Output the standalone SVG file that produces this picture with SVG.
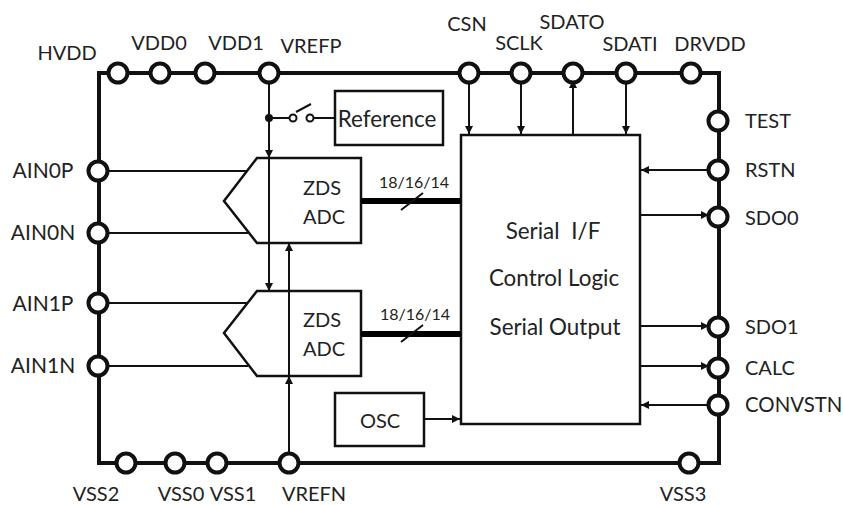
<svg xmlns="http://www.w3.org/2000/svg" width="843" height="505" viewBox="0 0 843 505">
<style>
text{font-family:Lato,"Open Sans","Liberation Sans",sans-serif;font-size:20px;fill:#222}
.pin{fill:#fff;stroke:#111;stroke-width:4}
.box{fill:#fff;stroke:#111;stroke-width:2.5}
.w{fill:none;stroke:#111;stroke-width:2}
.rail{fill:none;stroke:#111;stroke-width:4}
.bus{fill:none;stroke:#000;stroke-width:6}
.a{fill:#111}
.c{text-anchor:middle}
.ain{font-size:21px}
.big{font-size:22.4px}
</style>
<defs>
<path id="ah" class="a" d="M0 0L-4 -8L4 -8Z"/>
</defs>
<rect width="843" height="505" fill="#fff"/>
<g id="frame"><path class="rail" d="M99 73H719V463H99Z"/></g>
<g id="blocks">
<path id="adc0" class="box" d="M257 158H361V243H257L224 201Z"/>
<path id="adc1" class="box" d="M257 291H361V376H257L224 333Z"/>
<rect id="logic" class="box" x="461" y="135" width="179" height="289"/>
<rect id="osc" class="box" x="335" y="393" width="89" height="53"/>
<rect id="reference" class="box" x="335" y="91" width="108" height="54"/>
</g>
<g id="connectors">
<path class="w" d="M269 73V291M289 463V243"/>
<use href="#ah" x="269" y="158"/><use href="#ah" x="269" y="291"/>
<use href="#ah" transform="translate(289 243) rotate(180)"/><use href="#ah" transform="translate(289 376) rotate(180)"/>
<circle class="a" cx="269" cy="118" r="4"/>
<path class="w" d="M269 118H289M314 118H335M296 112L311 104"/>
<circle cx="293" cy="118" r="3.500" fill="#fff" stroke="#111" stroke-width="2"/>
<circle cx="310" cy="118" r="3.500" fill="#fff" stroke="#111" stroke-width="2"/>
<path class="w" d="M99 171H248M99 233H248M99 303H248M99 366H248"/>
<path class="bus" d="M361 201H461M361 334H461"/>
<path class="w" d="M401 210L423 193M401 342L423 325"/>
<path class="w" d="M469 73V135M521 73V135M573 73V135M626 73V135"/>
<use href="#ah" x="469" y="134"/><use href="#ah" x="521" y="134"/><use href="#ah" x="626" y="134"/>
<use href="#ah" transform="translate(573 80) rotate(180)"/>
<path class="w" d="M640 170H719M640 215H719M640 326H719M640 366H719M640 405H719M424 419H461"/>
<use href="#ah" transform="translate(641 170) rotate(90)"/>
<use href="#ah" transform="translate(709 215) rotate(-90)"/>
<use href="#ah" transform="translate(709 326) rotate(-90)"/>
<use href="#ah" transform="translate(709 366) rotate(-90)"/>
<use href="#ah" transform="translate(641 405) rotate(90)"/>
<use href="#ah" transform="translate(460 419) rotate(-90)"/>
</g>
<g id="pins">
<circle class="pin" cx="118" cy="73" r="9.500"/><circle class="pin" cx="160" cy="73" r="9.500"/><circle class="pin" cx="205" cy="73" r="9.500"/><circle class="pin" cx="269" cy="73" r="9.500"/><circle class="pin" cx="469" cy="73" r="9.500"/><circle class="pin" cx="521" cy="73" r="9.500"/><circle class="pin" cx="573" cy="73" r="9.500"/><circle class="pin" cx="626" cy="73" r="9.500"/><circle class="pin" cx="691" cy="73" r="9.500"/>
<circle class="pin" cx="718" cy="121" r="9.500"/><circle class="pin" cx="718" cy="170" r="9.500"/><circle class="pin" cx="718" cy="217" r="9.500"/><circle class="pin" cx="718" cy="327" r="9.500"/><circle class="pin" cx="718" cy="368" r="9.500"/><circle class="pin" cx="718" cy="405" r="9.500"/>
<circle class="pin" cx="98" cy="171" r="9.500"/><circle class="pin" cx="98" cy="233" r="9.500"/><circle class="pin" cx="98" cy="303" r="9.500"/><circle class="pin" cx="98" cy="366" r="9.500"/>
<circle class="pin" cx="126" cy="463" r="9.500"/><circle class="pin" cx="175" cy="463" r="9.500"/><circle class="pin" cx="217" cy="463" r="9.500"/><circle class="pin" cx="289" cy="463" r="9.500"/><circle class="pin" cx="689" cy="463" r="9.500"/>
</g>
<g id="labels">
<text class="c" x="67" y="60">HVDD</text><text class="c" x="159" y="50">VDD0</text><text class="c" x="236" y="50">VDD1</text><text class="c" x="311" y="53">VREFP</text>
<text class="c" x="467" y="31">CSN</text><text class="c" x="519" y="50">SCLK</text><text class="c" x="572" y="29">SDATO</text><text class="c" x="630" y="51">SDATI</text><text class="c" x="710" y="51">DRVDD</text>
<text x="745" y="128">TEST</text><text x="745" y="177">RSTN</text><text x="745" y="225">SDO0</text><text x="745" y="334">SDO1</text><text x="745" y="375">CALC</text><text x="745" y="412" style="font-size:20.4px">CONVSTN</text>
<text class="c ain" x="43" y="178">AIN0P</text><text class="c ain" x="43" y="240">AIN0N</text><text class="c ain" x="43" y="311">AIN1P</text><text class="c ain" x="43" y="373">AIN1N</text>
<text class="c" x="96" y="501">VSS2</text><text class="c" x="181" y="501">VSS0</text><text class="c" x="233" y="501">VSS1</text><text class="c" x="314" y="501">VREFN</text><text class="c" x="683" y="501">VSS3</text>
<text class="c big" x="387" y="127">Reference</text>
<text class="c" x="322" y="195">ZDS</text><text class="c" x="324" y="224">ADC</text>
<text class="c" x="322" y="327">ZDS</text><text class="c" x="324" y="356">ADC</text>
<text class="c" x="414" y="188" style="font-size:16px">18/16/14</text><text class="c" x="415" y="320" style="font-size:16px">18/16/14</text>
<text class="c big" x="553" y="239" style="word-spacing:6px">Serial I/F</text><text class="c big" x="554" y="286">Control Logic</text><text class="c big" x="555" y="335">Serial Output</text>
<text class="c" x="380" y="428">OSC</text>
</g>
</svg>
